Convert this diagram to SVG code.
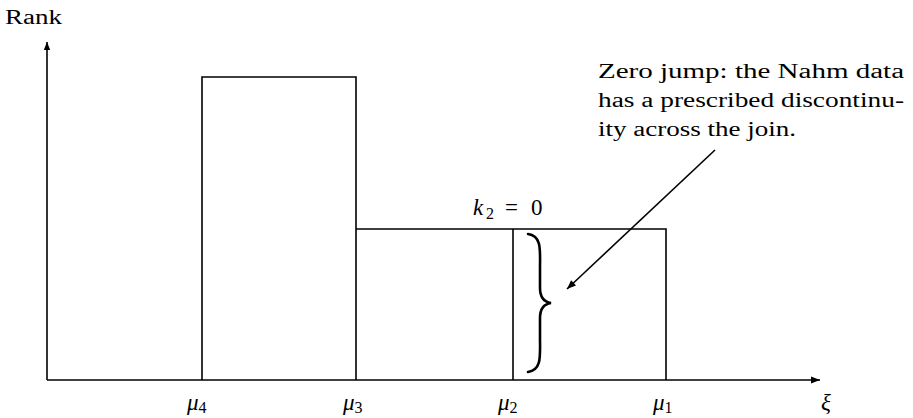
<svg xmlns="http://www.w3.org/2000/svg" width="913" height="418" viewBox="0 0 913 418">
<defs>
<marker id="ah" viewBox="0 0 10 10" refX="10" refY="5" markerWidth="10" markerHeight="8" markerUnits="userSpaceOnUse" orient="auto">
<path d="M0,1 L10,5 L0,9 Z" fill="#000"/>
</marker>
<marker id="ah2" viewBox="0 0 10 10" refX="10" refY="5" markerWidth="14" markerHeight="9" markerUnits="userSpaceOnUse" orient="auto">
<path d="M0,1 L10,5 L0,9 Z" fill="#000"/>
</marker>
</defs>
<style>
.t{font-family:"Liberation Serif","DejaVu Serif",serif;font-size:20px;fill:#000}
.m{font-family:"Liberation Serif","DejaVu Serif",serif;font-size:23px;font-style:italic;fill:#000}
.s{font-family:"Liberation Serif","DejaVu Serif",serif;font-size:16px;font-style:normal;fill:#000}
.r{font-family:"Liberation Serif","DejaVu Serif",serif;font-size:23px;fill:#000}
.l{fill:none;stroke:#000;stroke-width:1.6}
</style>
<rect width="913" height="418" fill="#fff"/>
<g id="axes">
<line class="l" x1="47" y1="380" x2="47" y2="42" marker-end="url(#ah)"/>
<line class="l" x1="47" y1="380" x2="820" y2="380" marker-end="url(#ah2)"/>
<text class="t" x="5" y="24" textLength="57" lengthAdjust="spacingAndGlyphs">Rank</text>
<text class="m" x="821" y="410">ξ</text>
</g>
<g id="block-mu4-mu3">
<polyline class="l" points="202,380 202,77 356,77 356,380"/>
</g>
<g id="block-mu3-mu1">
<polyline class="l" points="356,229 666,229 666,380"/>
<line class="l" x1="513" y1="229" x2="513" y2="380"/>
</g>
<g id="ticks">
<text class="m" x="187" y="410">μ<tspan class="s" dy="3">4</tspan></text>
<text class="m" x="343" y="410">μ<tspan class="s" dy="3">3</tspan></text>
<text class="m" x="498" y="410">μ<tspan class="s" dy="3">2</tspan></text>
<text class="m" x="653" y="410">μ<tspan class="s" dy="3">1</tspan></text>
</g>
<g id="label-k2">
<text class="m" x="473" y="215">k</text>
<text class="s" x="486" y="219">2</text>
<text class="r" x="505" y="215">=</text>
<text class="r" x="531" y="215">0</text>
</g>
<g id="brace">
<path d="M528,234 C542,236 540,250 540,268 L540,288 C540,298 544,302 551,303 C544,304 540,308 540,318 L540,338 C540,356 542,370 528,372" fill="none" stroke="#000" stroke-width="2.6" stroke-linecap="round"/>
</g>
<g id="note">
<text class="t" x="598" y="78" textLength="306" lengthAdjust="spacingAndGlyphs">Zero jump:  the Nahm data</text>
<text class="t" x="598" y="107" textLength="306" lengthAdjust="spacingAndGlyphs">has a prescribed discontinu-</text>
<text class="t" x="598" y="136" textLength="198" lengthAdjust="spacingAndGlyphs">ity across the join.</text>
</g>
<g id="connectors">
<line class="l" x1="715" y1="150" x2="567" y2="289" marker-end="url(#ah2)"/>
</g>
</svg>
